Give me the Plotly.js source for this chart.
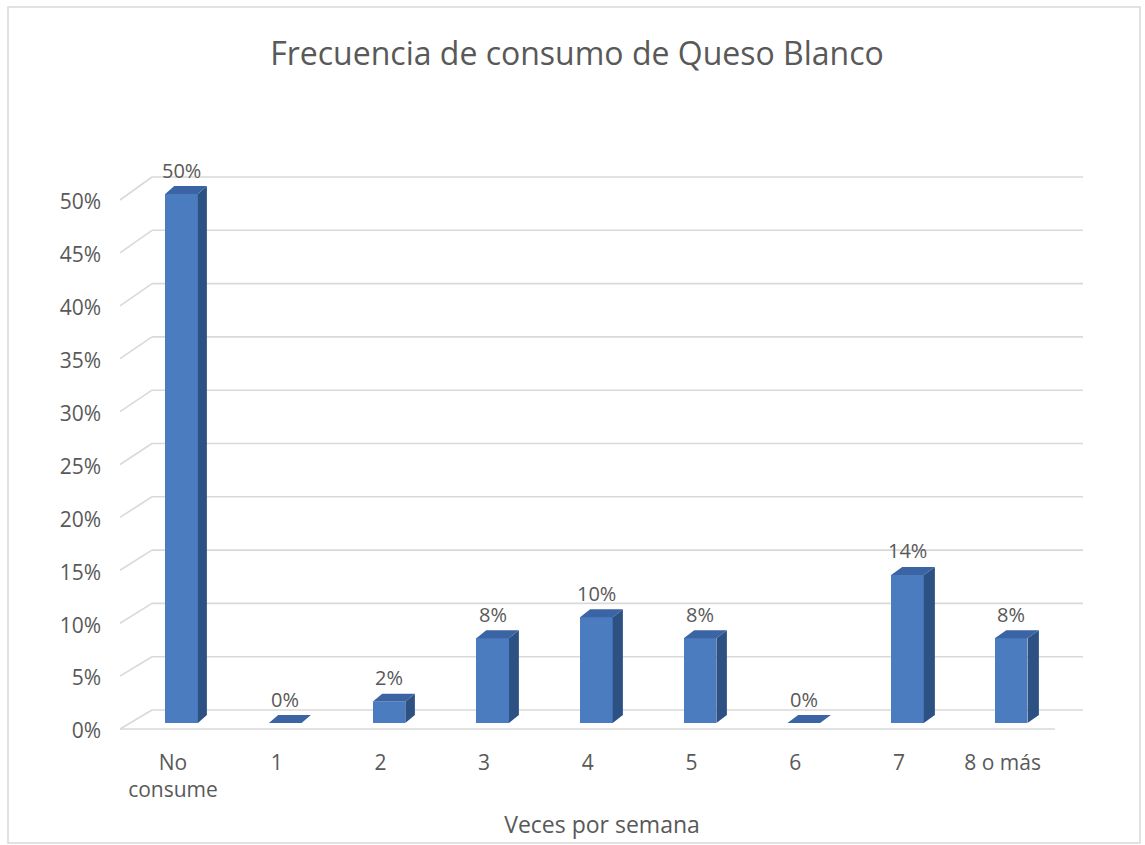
<!DOCTYPE html>
<html>
<head>
<meta charset="utf-8">
<script src="https://cdn.plot.ly/plotly-3.0.1.min.js"></script>
<style>
  html, body { margin: 0; padding: 0; background: #ffffff; }
  #chart { width: 1145px; height: 845px; }
</style>
</head>
<body>
<div id="chart"></div>
<script>
// Frecuencia semanal de consumo de queso blanco (porcentaje de encuestados)
const categories = ['No<br>consume', '1', '2', '3', '4', '5', '6', '7', '8 o más'];
const values = [0.50, 0.00, 0.02, 0.08, 0.10, 0.08, 0.00, 0.14, 0.08];
const tickValues = [0, 0.05, 0.10, 0.15, 0.20, 0.25, 0.30, 0.35, 0.40, 0.45, 0.50];
const tickLabels = ['0%', '5%', '10%', '15%', '20%', '25%', '30%', '35%', '40%', '45%', '50%'];

// ---- geometry of the pseudo-3D column chart ----
const W = 1145, H = 845;
const M = { l: 118, r: 59, t: 150, b: 105 };
const PW = W - M.l - M.r, PH = H - M.t - M.b;
const PX_PER_CAT = 103.7;          // horizontal pixels per category
const CAT0_PX = 173;               // pixel centre of the first category
const PX_PER_UNIT = 1058;          // vertical pixels per 100%
const ZERO_PX = 723;               // pixel row of the bar floor

const xRange = [(M.l - CAT0_PX) / PX_PER_CAT, (W - M.r - CAT0_PX) / PX_PER_CAT];
const yRange = [(ZERO_PX - (H - M.b)) / PX_PER_UNIT, (ZERO_PX - M.t) / PX_PER_UNIT];
const dxPx = p => p / PX_PER_CAT;  // pixel width -> x units
const dyPx = p => p / PX_PER_UNIT; // pixel height -> y units

const BAR_W = 0.315, BAR_OFF = -0.075;
const DEPTH_Y = dyPx(8);
const depthX = i => dxPx(9 + 0.3 * i);

const FRONT = '#4a7cbf', SIDE = '#2e5184', TOP = '#3a64a3';
const TXT = '#595959', GRID = '#d9d9d9';
const FONT = 'Open Sans, Noto Sans, sans-serif';

const idx = values.map((_, i) => i);

// front faces
const frontFace = {
  type: 'bar', x: idx, y: values, width: BAR_W, offset: BAR_OFF,
  marker: { color: FRONT, line: { width: 0 } },
  hoverinfo: 'skip', showlegend: false
};

// side and top faces as filled parallelograms
const sideX = [], sideY = [], topX = [], topY = [];
values.forEach((v, i) => {
  const xl = i + BAR_OFF, xr = xl + BAR_W, dx = depthX(i);
  sideX.push(xr, xr + dx, xr + dx, xr, xr, null);
  sideY.push(0, DEPTH_Y, v + DEPTH_Y, v, 0, null);
  topX.push(xl, xr, xr + dx, xl + dx, xl, null);
  topY.push(v, v, v + DEPTH_Y, v + DEPTH_Y, v, null);
});
const sideFace = {
  type: 'scatter', mode: 'lines', x: sideX, y: sideY, fill: 'toself',
  fillcolor: SIDE, line: { width: 0, color: SIDE }, hoverinfo: 'skip', showlegend: false
};
const topFace = {
  type: 'scatter', mode: 'lines', x: topX, y: topY, fill: 'toself',
  fillcolor: TOP, line: { width: 0, color: TOP }, hoverinfo: 'skip', showlegend: false
};

// back wall gridlines with the slanted side-wall segments, plus the floor edge
const backY = v => v * 1.0076 + dyPx(13);
const frontY = v => v - dyPx(6);
const wallFrontX = (120 - CAT0_PX) / PX_PER_CAT;
const wallBackX = (152 - CAT0_PX) / PX_PER_CAT;
const wallEndX = (1083 - CAT0_PX) / PX_PER_CAT;
const floorEndX = (1055 - CAT0_PX) / PX_PER_CAT;
const gridLine = { color: GRID, width: 1.6 };
const shapes = [];
tickValues.forEach(v => {
  shapes.push({ type: 'line', xref: 'x', yref: 'y', layer: 'below',
    x0: wallBackX, x1: wallEndX, y0: backY(v), y1: backY(v), line: gridLine });
  shapes.push({ type: 'line', xref: 'x', yref: 'y', layer: 'below',
    x0: wallFrontX, x1: wallBackX, y0: frontY(v), y1: backY(v), line: gridLine });
});
shapes.push({ type: 'line', xref: 'x', yref: 'y', layer: 'below',
  x0: wallFrontX, x1: floorEndX, y0: frontY(0), y1: frontY(0), line: gridLine });
// chart frame
const px2paperX = p => (p - M.l) / PW;
const px2paperY = p => (H - M.b - p) / PH;
shapes.push({ type: 'rect', xref: 'paper', yref: 'paper', layer: 'below',
  x0: px2paperX(8), x1: px2paperX(1140), y0: px2paperY(843), y1: px2paperY(7),
  line: { color: '#d9d9d9', width: 1.5 }, fillcolor: 'rgba(0,0,0,0)' });

// value labels above each column
const annotations = values.map((v, i) => ({
  x: i + BAR_OFF + BAR_W / 2, y: v, xref: 'x', yref: 'y',
  text: Math.round(v * 100) + '%', showarrow: false,
  yanchor: 'middle', yshift: 24,
  font: { family: FONT, size: 20, color: TXT }
}));

const layout = {
  width: W, height: H,
  margin: M,
  paper_bgcolor: '#ffffff', plot_bgcolor: 'rgba(0,0,0,0)',
  showlegend: false,
  title: {
    text: 'Frecuencia de consumo de Queso Blanco',
    x: 577 / W, xref: 'container', xanchor: 'center',
    y: 1 - 54 / H, yref: 'container', yanchor: 'middle',
    font: { family: FONT, size: 32, color: TXT }
  },
  xaxis: {
    range: xRange, tickvals: idx, ticktext: categories,
    showgrid: false, zeroline: false, showline: false, ticks: '',
    ticklabelstandoff: 8,
    tickfont: { family: FONT, size: 21, color: TXT },
    title: { text: 'Veces por semana', standoff: 14,
      font: { family: FONT, size: 23, color: TXT } },
    fixedrange: true
  },
  yaxis: {
    range: yRange, tickvals: tickValues, ticktext: tickLabels,
    showgrid: false, zeroline: false, showline: false, ticks: '',
    ticklabelshift: 8, ticklabelstandoff: 16,
    tickfont: { family: FONT, size: 21, color: TXT },
    fixedrange: true
  },
  shapes: shapes,
  annotations: annotations,
  bargap: 0
};

Plotly.newPlot('chart', [frontFace, sideFace, topFace], layout, { displayModeBar: false, staticPlot: true });
</script>
</body>
</html>
